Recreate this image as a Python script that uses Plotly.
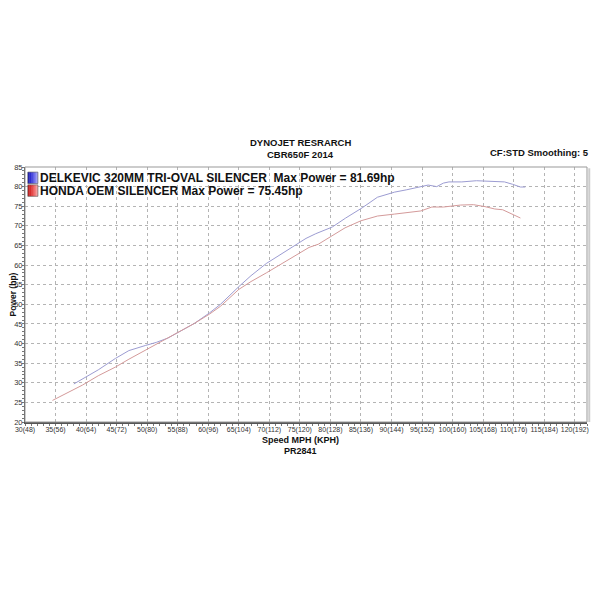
import plotly.graph_objects as go

# ---- data ----
blue_name = "DELKEVIC 320MM TRI-OVAL SILENCER  Max Power = 81.69hp"
red_name = "HONDA OEM SILENCER Max Power = 75.45hp"

blue_mph = [38, 40, 42, 44.8, 47, 49.7, 51.5, 53.4, 55, 57.7, 60.2, 62, 65, 67, 69.5, 72, 74, 76,
            77.6, 80.3, 82.5, 85.2, 87.7, 90.5, 92.5, 94.8, 96, 97.4, 98.5, 99.4, 101.5, 103.9,
            106.9, 108.5, 109.8, 111.1, 111.9]
blue_hp = [29.7, 31.5, 33.3, 36.2, 38.2, 39.5, 40.3, 41.4, 42.8, 45.1, 47.8, 50, 54.5, 57.3, 60.4,
           62.8, 64.8, 66.8, 68, 69.7, 72, 74.6, 77.3, 78.6, 79.2, 80.1, 80.4, 80, 80.9, 81.2, 81.2,
           81.5, 81.4, 81.2, 80.6, 79.9, 79.9]

red_mph = [34.5, 37, 39.4, 42, 44.8, 47, 49.7, 52, 54.7, 57.7, 60.2, 62, 65, 67, 69.5, 72, 74, 76.5,
           78, 80, 82.4, 85, 87.7, 90.5, 92.5, 94.8, 96.6, 98.5, 101.3, 103.4, 105.3, 106.9, 108.2,
           109.8, 111.1]
red_hp = [25.5, 27.4, 29.4, 31.8, 34, 36, 38.3, 40.3, 42.6, 45.1, 47.5, 49.5, 53.8, 55.8, 58, 60.3,
          62.2, 64.5, 65.3, 67.3, 69.5, 71.3, 72.5, 73, 73.4, 73.8, 74.8, 74.8, 75.3, 75.4, 74.9,
          74.3, 74.1, 73, 72]

x_tickvals = [30, 35, 40, 45, 50, 55, 60, 65, 70, 75, 80, 85, 90, 95, 100, 105, 110, 115, 120]
x_ticktext = ["30(48)", "35(56)", "40(64)", "45(72)", "50(80)", "55(88)", "60(96)", "65(104)",
              "70(112)", "75(120)", "80(128)", "85(136)", "90(144)", "95(152)", "100(160)",
              "105(168)", "110(176)", "115(184)", "120(192)"]
y_tickvals = [20, 25, 30, 35, 40, 45, 50, 55, 60, 65, 70, 75, 80, 85]

fig = go.Figure()
fig.add_trace(go.Scatter(x=blue_mph, y=blue_hp, mode="lines", name=blue_name,
                         line=dict(color="#9c9cd2", width=1), showlegend=False))
fig.add_trace(go.Scatter(x=red_mph, y=red_hp, mode="lines", name=red_name,
                         line=dict(color="#d49a9a", width=1), showlegend=False))

grid = dict(showgrid=True, gridcolor="#b4b4b4", griddash="dot", gridwidth=1)
fig.update_xaxes(range=[30, 122], tickvals=x_tickvals, ticktext=x_ticktext, tickangle=0,
                 ticklabeloverflow="allow",
                 tickfont=dict(family="Liberation Sans Narrow, Arial", size=7, color="#333"),
                 showline=True, linecolor="#555", linewidth=2, mirror=False,
                 ticks="", zeroline=False,
                 minor=dict(ticks="outside", ticklen=2, tickcolor="#777", dtick=1, showgrid=False),
                 **grid)
fig.update_yaxes(range=[20, 85], tickvals=y_tickvals,
                 tickfont=dict(family="Liberation Sans Narrow, Arial", size=7.5, color="#333"),
                 showline=True, linecolor="#555", linewidth=1, ticks="", zeroline=False,
                 minor=dict(ticks="outside", ticklen=2, tickcolor="#777", dtick=1, showgrid=False),
                 **grid)

# plot frame
fig.add_shape(type="rect", xref="paper", yref="paper", x0=0, x1=1, y0=0, y1=1,
              line=dict(color="#999", width=1))
fig.add_shape(type="line", xref="paper", yref="paper", x0=1.004, x1=1.004, y0=0, y1=0.995,
              line=dict(color="#ccc", width=2))

# legend icons (gradient squares approximated)
def icon(y0, y1, cols):
    n = len(cols)
    w = 0.018 / n
    for i, c in enumerate(cols):
        fig.add_shape(type="rect", xref="paper", yref="paper",
                      x0=0.005 + i * w, x1=0.005 + (i + 1) * w, y0=y0, y1=y1,
                      line=dict(width=0), fillcolor=c)
    fig.add_shape(type="rect", xref="paper", yref="paper", x0=0.005, x1=0.023, y0=y0, y1=y1,
                  line=dict(color="#555", width=0.6))

icon(0.935, 0.98, ["#1a1ab4", "#2c2cd0", "#4a4ae0", "#7070ec", "#9c9cf4"])
icon(0.885, 0.93, ["#c41a1a", "#d82c2c", "#e84a4a", "#f07070", "#f49c9c"])

fig.add_annotation(text="<b>" + blue_name.replace("  ", "&nbsp; ") + "</b>", xref="paper", yref="paper",
                   x=0.024, y=0.958, xanchor="left", yanchor="middle", showarrow=False,
                   font=dict(family="Arial", size=12, color="#111"))
fig.add_annotation(text="<b>" + red_name + "</b>", xref="paper", yref="paper",
                   x=0.024, y=0.906, xanchor="left", yanchor="middle", showarrow=False,
                   font=dict(family="Arial", size=12, color="#111"))

# titles
fig.add_annotation(text="<b>DYNOJET RESRARCH</b>", xref="paper", yref="paper", x=0.49, y=1.0,
                   yshift=25, xanchor="center", yanchor="middle", showarrow=False,
                   font=dict(family="Arial", size=9.5, color="#111"))
fig.add_annotation(text="<b>CBR650F 2014</b>", xref="paper", yref="paper", x=0.49, y=1.0,
                   yshift=13, xanchor="center", yanchor="middle", showarrow=False,
                   font=dict(family="Arial", size=9.5, color="#111"))
fig.add_annotation(text="<b>CF:STD Smoothing: 5</b>", xref="paper", yref="paper", x=1.0, y=1.0,
                   yshift=15, xshift=4, xanchor="right", yanchor="middle", showarrow=False,
                   font=dict(family="Arial", size=9.5, color="#111"))
fig.add_annotation(text="<b>Speed MPH (KPH)</b>", xref="paper", yref="paper", x=0.49, y=0,
                   yshift=-18, xanchor="center", yanchor="middle", showarrow=False,
                   font=dict(family="Arial", size=9, color="#111"))
fig.add_annotation(text="<b>PR2841</b>", xref="paper", yref="paper", x=0.49, y=0,
                   yshift=-29, xanchor="center", yanchor="middle", showarrow=False,
                   font=dict(family="Arial", size=9, color="#111"))
fig.add_annotation(text="<b>Power (hp)</b>", xref="paper", yref="paper", x=0, y=0.5,
                   xshift=-13, textangle=-90, xanchor="center", yanchor="middle", showarrow=False,
                   font=dict(family="Arial", size=8.5, color="#111"))

fig.update_layout(width=584, height=584, margin=dict(l=17, r=5, t=159, b=170, autoexpand=False),
                  paper_bgcolor="white", plot_bgcolor="white")

fig.write_html("out.html")
